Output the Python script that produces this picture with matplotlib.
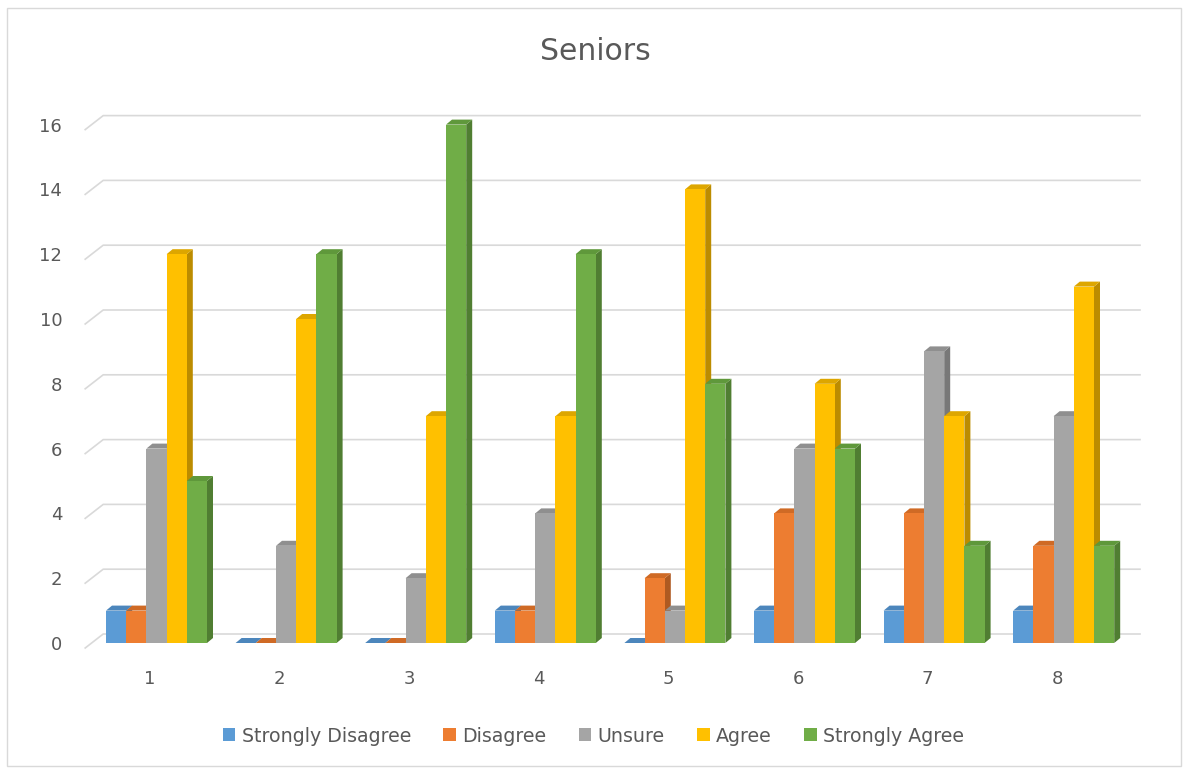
import numpy as np
import matplotlib.pyplot as plt
from matplotlib.patches import Polygon, Rectangle, Patch

# chart data
questions = ["1", "2", "3", "4", "5", "6", "7", "8"]
series = ["Strongly Disagree", "Disagree", "Unsure", "Agree", "Strongly Agree"]
strongly_disagree = [1, 0, 0, 1, 0, 1, 1, 1]
disagree = [1, 0, 0, 1, 2, 4, 4, 3]
unsure = [6, 3, 2, 4, 1, 6, 9, 7]
agree = [12, 10, 7, 7, 14, 8, 7, 11]
strongly_agree = [5, 12, 16, 12, 8, 6, 3, 3]
yticks = [0, 2, 4, 6, 8, 10, 12, 14, 16]

values = [strongly_disagree, disagree, unsure, agree, strongly_agree]
front_cols = ["#5B9BD5", "#ED7D31", "#A5A5A5", "#FFC000", "#70AD47"]
top_cols = ["#4C86BC", "#CF6A25", "#8F8F8F", "#DDA600", "#5F983B"]
side_cols = ["#41719C", "#AE5A21", "#787878", "#BC8C00", "#507E32"]

W, H = 1185, 771
fig = plt.figure(figsize=(W / 100, H / 100), dpi=100)
fig.patches.append(Rectangle((7 / W, 1 - 766 / H), 1174 / W, 758 / H,
                             transform=fig.transFigure, fill=False,
                             edgecolor="#D9D9D9", lw=1))

# axes: x in category units, y in value units
px_x = 129.6
px_y = 32.4
left_px, bottom_px = 85.2, 643
ax = fig.add_axes([left_px / W, 1 - bottom_px / H, 8 * px_x / W, 17 * px_y / H])
ax.set_xlim(0.5, 8.5)
ax.set_ylim(0, 17)
ax.axis("off")

# back wall gridlines with left floor diagonal
gdx, gdy_back, gdy_front = 18 / px_x, 9 / px_y, 5 / px_y
for v in yticks:
    ax.plot([0.5, 0.5 + gdx, 8.5 + gdx], [v - gdy_front, v + gdy_back, v + gdy_back],
            color="#D9D9D9", lw=1.2, clip_on=False, zorder=1)
    ax.text(0.5 - 23 / px_x, v - 2 / px_y, str(v), ha="right", va="center",
            fontsize=13, color="#595959")

# 3d-looking bars
bw = 20.2 / px_x
ddx, ddy = 6 / px_x, 5 / px_y
for i, q in enumerate(questions):
    c = i + 1
    x0 = c - 44 / px_x
    for k in range(len(series)):
        v = values[k][i]
        xl = x0 + k * bw
        xr = xl + bw
        side = Polygon([(xr, 0), (xr + ddx, ddy), (xr + ddx, v + ddy), (xr, v)],
                       closed=True, facecolor=side_cols[k], edgecolor="none",
                       zorder=3, clip_on=False)
        top = Polygon([(xl, v), (xl + ddx, v + ddy), (xr + ddx, v + ddy), (xr, v)],
                      closed=True, facecolor=top_cols[k], edgecolor="none",
                      zorder=3, clip_on=False)
        front = Rectangle((xl, 0), bw, v, facecolor=front_cols[k], edgecolor="none",
                          zorder=3, clip_on=False)
        ax.add_patch(side)
        ax.add_patch(top)
        ax.add_patch(front)
    ax.text(c, -1.1, q, ha="center", va="center", fontsize=13, color="#595959")

fig.text(0.5 + 3 / W, 1 - 52 / H, "Seniors", ha="center", va="center",
         fontsize=21.5, color="#595959")

handles = [Patch(facecolor=front_cols[k], edgecolor="none") for k in range(len(series))]
fig.legend(handles, series, loc="center", bbox_to_anchor=(0.5 + 1 / W, 1 - 736 / H),
           ncol=5, frameon=False, fontsize=13.7, handlelength=0.65, handleheight=0.65,
           handletextpad=0.35, columnspacing=1.7, labelcolor="#595959")

fig.savefig("out.png", dpi=100)
